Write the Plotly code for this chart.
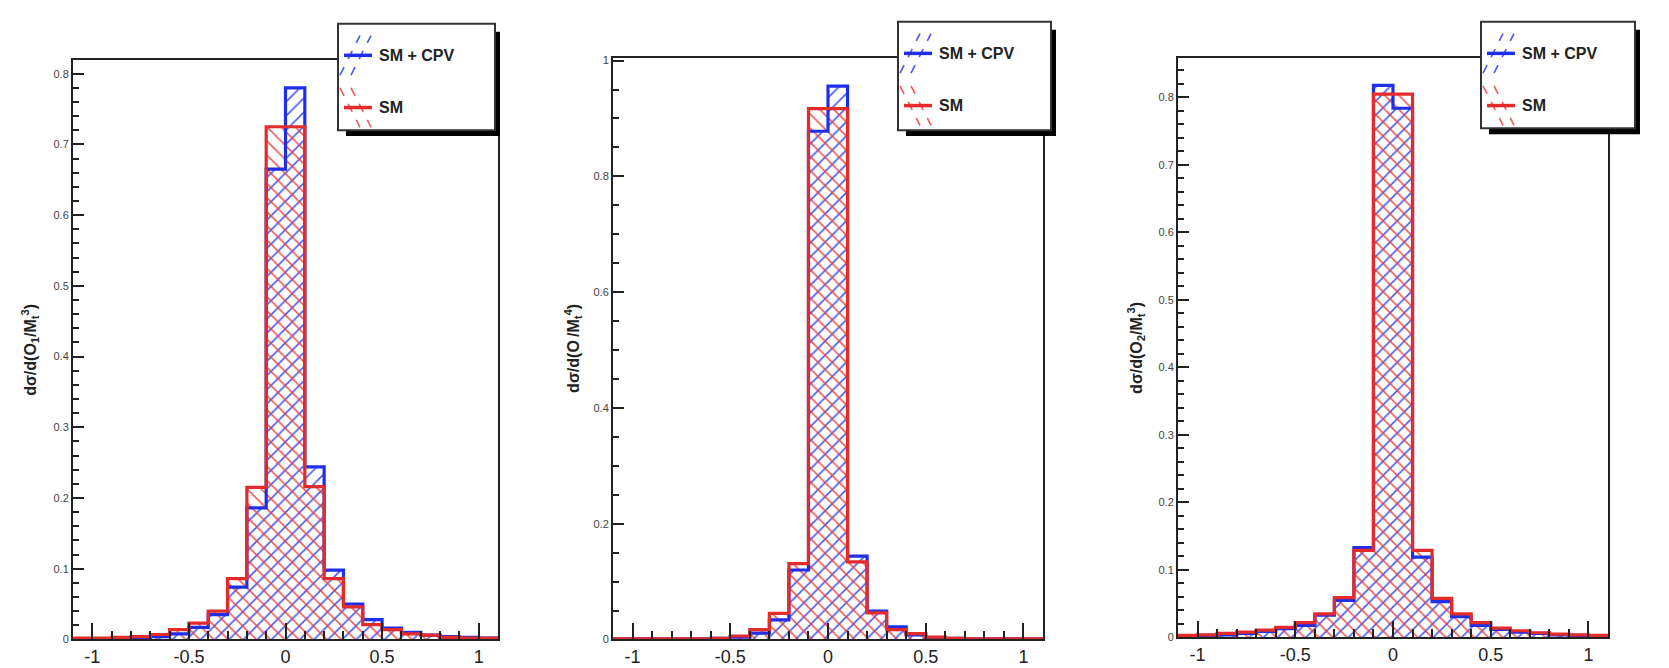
import plotly.graph_objects as go

# ---------------- data ----------------
bin_edges = [-1.1, -1.0, -0.9, -0.8, -0.7, -0.6, -0.5, -0.4, -0.3, -0.2, -0.1, 0.0,
             0.1, 0.2, 0.3, 0.4, 0.5, 0.6, 0.7, 0.8, 0.9, 1.0, 1.1]
bin_centers = [round((a + b) / 2, 3) for a, b in zip(bin_edges[:-1], bin_edges[1:])]
bin_width = 0.1

# panel 1
p1_cpv = [0.001, 0.001, 0.002, 0.003, 0.004, 0.008, 0.017, 0.035, 0.074, 0.186, 0.665,
          0.780, 0.244, 0.098, 0.050, 0.028, 0.016, 0.010, 0.006, 0.004, 0.003, 0.002]
p1_sm = [0.002, 0.002, 0.003, 0.004, 0.007, 0.014, 0.023, 0.040, 0.086, 0.215, 0.725,
         0.725, 0.216, 0.086, 0.046, 0.021, 0.014, 0.008, 0.006, 0.003, 0.002, 0.002]
# panel 2
p2_cpv = [0.001, 0.001, 0.001, 0.001, 0.001, 0.002, 0.004, 0.011, 0.034, 0.120, 0.878,
          0.956, 0.144, 0.049, 0.022, 0.008, 0.003, 0.002, 0.001, 0.001, 0.001, 0.001]
p2_sm = [0.001, 0.001, 0.001, 0.001, 0.001, 0.002, 0.006, 0.017, 0.045, 0.131, 0.917,
         0.917, 0.134, 0.046, 0.017, 0.010, 0.004, 0.002, 0.001, 0.001, 0.001, 0.001]
# panel 3
p3_cpv = [0.002, 0.003, 0.004, 0.006, 0.009, 0.013, 0.018, 0.033, 0.055, 0.133, 0.818,
          0.784, 0.119, 0.053, 0.031, 0.018, 0.012, 0.008, 0.006, 0.004, 0.003, 0.002]
p3_sm = [0.003, 0.004, 0.006, 0.008, 0.011, 0.015, 0.022, 0.035, 0.059, 0.129, 0.805,
         0.805, 0.129, 0.058, 0.035, 0.022, 0.014, 0.010, 0.007, 0.005, 0.004, 0.003]

y_titles = ["dσ/d(O<sub>1</sub>/M<sub>t</sub><sup>3</sup>)",
            "dσ/d(O<sub> </sub>/M<sub>t</sub><sup>4</sup>)",
            "dσ/d(O<sub>2</sub>/M<sub>t</sub><sup>3</sup>)"]
y_max = [0.819, 1.004, 0.858]
y_tickvals = [[0, 0.1, 0.2, 0.3, 0.4, 0.5, 0.6, 0.7, 0.8],
              [0, 0.2, 0.4, 0.6, 0.8, 1.0],
              [0, 0.1, 0.2, 0.3, 0.4, 0.5, 0.6, 0.7, 0.8]]
y_ticktext = [["0", "0.1", "0.2", "0.3", "0.4", "0.5", "0.6", "0.7", "0.8"],
              ["0", "0.2", "0.4", "0.6", "0.8", "1"],
              ["0", "0.1", "0.2", "0.3", "0.4", "0.5", "0.6", "0.7", "0.8"]]
y_minor = [0.02, 0.05, 0.02]
x_tickvals = [-1, -0.5, 0, 0.5, 1]
x_ticktext = ["-1", "-0.5", "0", "0.5", "1"]
series_names = ["SM + CPV", "SM"]

panels = [(p1_cpv, p1_sm), (p2_cpv, p2_sm), (p3_cpv, p3_sm)]

# ---------------- layout geometry (pixels of 1669x668) ----------------
W, H = 1669, 668
frames = [(65, 49, 490, 637), (605, 47, 1035, 637), (1170, 47, 1600, 635)]
legend_boxes = [(330, 12, 487, 120), (890, 10, 1043, 120), (1473, 10, 1627, 118)]
ytitle_x = [22, 565, 1128]

BLUE = "#1f2fe8"
RED = "#e32b2b"
BLUE_H = "rgba(40,60,240,0.85)"
RED_H = "rgba(235,60,60,0.85)"


def px(x):
    return x / W


def py(y):
    return 1 - y / H


fig = go.Figure()

for i, (cpv, sm) in enumerate(panels):
    xa = "x" if i == 0 else f"x{i+1}"
    ya = "y" if i == 0 else f"y{i+1}"
    for vals, col, shape in [(cpv, BLUE_H, "/"), (sm, RED_H, "\\")]:
        fig.add_trace(go.Bar(
            x=bin_centers, y=vals, width=bin_width,
            marker=dict(color="rgba(0,0,0,0)", line=dict(width=0),
                        pattern=dict(shape=shape, fgcolor=col, size=10, solidity=0.16,
                                     fillmode="replace")),
            xaxis=xa, yaxis=ya, showlegend=False, hoverinfo="skip"))
    for vals, col, name in [(cpv, BLUE, series_names[0]), (sm, RED, series_names[1])]:
        fig.add_trace(go.Scatter(
            x=bin_edges, y=list(vals) + [vals[-1]], mode="lines",
            line=dict(color=col, width=3.2, shape="hv"),
            xaxis=xa, yaxis=ya, showlegend=False, name=name, cliponaxis=False))

layout = dict(
    width=W, height=H, paper_bgcolor="white", plot_bgcolor="white",
    margin=dict(l=0, r=0, t=0, b=0), barmode="overlay", bargap=0,
    showlegend=False,
    font=dict(family="Liberation Sans, Arial, sans-serif", color="#222"),
)

shapes = []
annotations = []
for i, (x0, y0, x1, y1) in enumerate(frames):
    sfx = "" if i == 0 else str(i + 1)
    layout["xaxis" + sfx] = dict(
        domain=[px(x0), px(x1)], range=[-1.1, 1.1], anchor="y" + sfx,
        tickvals=x_tickvals, ticktext=x_ticktext, ticks="inside", ticklen=16,
        tickwidth=2, tickcolor="#222",
        minor=dict(dtick=0.1, tick0=0, ticks="inside", ticklen=8, tickwidth=1.5,
                   tickcolor="#222"),
        showgrid=False, zeroline=False, showline=True, linecolor="#222", linewidth=2,
        mirror=True, tickfont=dict(size=18, color="#222"), fixedrange=True)
    layout["yaxis" + sfx] = dict(
        domain=[py(y1), py(y0)], range=[0, y_max[i]], anchor="x" + sfx,
        tickvals=y_tickvals[i], ticktext=y_ticktext[i], ticks="inside", ticklen=11,
        tickwidth=2, tickcolor="#222",
        minor=dict(dtick=y_minor[i], tick0=0, ticks="inside", ticklen=6, tickwidth=1.5,
                   tickcolor="#222"),
        showgrid=False, zeroline=False, showline=True, linecolor="#222", linewidth=2,
        mirror=True, tickfont=dict(size=11, color="#444"), fixedrange=True)

    # y-axis title
    annotations.append(dict(
        text=y_titles[i], xref="paper", yref="paper", x=px(ytitle_x[i]),
        y=py((y0 + y1) / 2), textangle=-90, showarrow=False, xanchor="center",
        yanchor="middle", font=dict(size=16, color="#222", weight="bold")))

    # legend box (shadow + box)
    lx0, ly0, lx1, ly1 = legend_boxes[i]
    shapes.append(dict(type="rect", xref="paper", yref="paper",
                       x0=px(lx0 + 8), x1=px(lx1 + 5), y0=py(ly1 + 6), y1=py(ly0 + 8),
                       fillcolor="black", line=dict(width=0), layer="above"))
    shapes.append(dict(type="rect", xref="paper", yref="paper",
                       x0=px(lx0), x1=px(lx1), y0=py(ly1), y1=py(ly0),
                       fillcolor="white", line=dict(color="#333", width=2), layer="above"))
    # entries
    entry_y = [ly0 + 32, ly0 + 85]
    for k, (col, hcol, name, slope) in enumerate([(BLUE, BLUE_H, series_names[0], 1),
                                                   (RED, RED_H, series_names[1], -1)]):
        ey = entry_y[k]
        gx0, gx1 = lx0 + 6, lx0 + 34
        for off in (-8, 3):
            cx = (gx0 + gx1) / 2 + off
            shapes.append(dict(type="line", xref="paper", yref="paper",
                               x0=px(cx - 10), x1=px(cx + 10),
                               y0=py(ey + 20 * slope), y1=py(ey - 20 * slope),
                               line=dict(color=hcol, width=1.6, dash="dash"), layer="above"))
        shapes.append(dict(type="line", xref="paper", yref="paper",
                           x0=px(gx0), x1=px(gx1), y0=py(ey), y1=py(ey),
                           line=dict(color=col, width=3.5), layer="above"))
        annotations.append(dict(
            text=name, xref="paper", yref="paper", x=px(lx0 + 39), y=py(ey),
            xanchor="left", yanchor="middle", showarrow=False,
            font=dict(size=16, color="#222", weight="bold")))

layout["shapes"] = shapes
layout["annotations"] = annotations
fig.update_layout(**layout)
fig.write_html("out.html")
